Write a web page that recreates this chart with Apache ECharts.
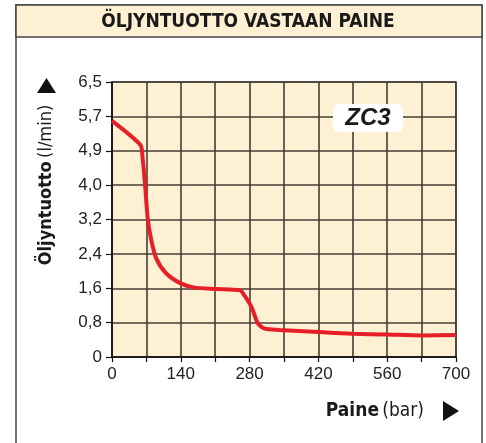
<!DOCTYPE html>
<html><head><meta charset="utf-8">
<script src="https://cdn.jsdelivr.net/npm/echarts@6/dist/echarts.min.js"></script>
<style>html,body{margin:0;padding:0;background:#fff}#c{width:486px;height:443px}</style>
</head><body><div id="c"></div>
<script>
var titleText = 'ÖLJYNTUOTTO VASTAAN PAINE';
var seriesLabel = 'ZC3';
var xName = 'Paine';
var xUnit = '(bar)';
var yName = 'Öljyntuotto';
var yUnit = '(l/min)';
var yTickLabels = ['0', '0,8', '1,6', '2,4', '3,2', '4,0', '4,9', '5,7', '6,5'];
var xTickLabels = ['0', '140', '280', '420', '560', '700'];
var pressure = [0, 58, 62, 67, 73, 80, 90, 110, 140, 168, 212, 260, 267, 284, 297, 311, 340, 420, 490, 560, 630, 700];
var flow = [5.58, 5.01, 4.74, 4.11, 3.24, 2.76, 2.33, 1.98, 1.74, 1.64, 1.61, 1.58, 1.50, 1.18, 0.79, 0.67, 0.64, 0.59, 0.55, 0.53, 0.51, 0.52];

var yMax = 6.5, yStep = yMax / (yTickLabels.length - 1);
var xMax = 700, xStep = 70;
var data = pressure.map(function (p, i) { return [p, flow[i]]; });
var F = '"Liberation Sans", Arial, sans-serif';
var FN = '"DejaVu Sans Condensed", "Liberation Sans Narrow", sans-serif';
var bg = '#fef1d3';
var gridC = '#453e35';

var chart = echarts.init(document.getElementById('c'), null, {renderer: 'canvas'});
chart.setOption({
  animation: false,
  backgroundColor: '#fff',
  grid: {left: 112, top: 82, right: 30, bottom: 86, show: true, backgroundColor: bg, borderColor: gridC, borderWidth: 1.5},
  xAxis: {
    type: 'value', min: 0, max: xMax, interval: xStep,
    axisLine: {lineStyle: {color: '#111', width: 1.5}},
    axisTick: {show: true, length: 5, lineStyle: {color: '#111', width: 1.2}},
    splitLine: {show: true, lineStyle: {color: gridC, width: 1.6}},
    axisLabel: {margin: 9, fontFamily: 'Liberation Sans', fontSize: 17, color: '#222',
      formatter: function (v) { var k = Math.round(v / xStep); return k % 2 === 0 ? xTickLabels[k / 2] : ''; }}
  },
  yAxis: {
    type: 'value', min: 0, max: yMax, interval: yStep,
    axisLine: {show: true, lineStyle: {color: '#111', width: 1.5}},
    axisTick: {show: true, length: 6, lineStyle: {color: '#111', width: 1.2}},
    splitLine: {show: true, lineStyle: {color: gridC, width: 1.6}},
    axisLabel: {margin: 10, fontFamily: 'Liberation Sans', fontSize: 17, color: '#222',
      formatter: function (v) { return yTickLabels[Math.round(v / yStep)]; }}
  },
  series: [{
    type: 'line', data: data, smooth: 0.25, showSymbol: false,
    lineStyle: {color: '#e61e28', width: 4}
  }],
  graphic: [
    {type: 'rect', shape: {x: 16, y: 5, width: 466, height: 460}, style: {fill: 'none', stroke: '#444', lineWidth: 1.5}, z: 0},
    {type: 'rect', shape: {x: 16, y: 5, width: 466, height: 32}, style: {fill: bg, stroke: '#444', lineWidth: 1.5}, z: 1},
    {type: 'text', x: 248, y: 22, z: 2, style: {text: titleText, fill: '#1a1a1a', font: 'bold 19px ' + FN, textAlign: 'center', textVerticalAlign: 'middle'}},
    {type: 'polygon', shape: {points: [[37, 93], [56, 93], [46.5, 78]]}, style: {fill: '#111'}, z: 2},
    {type: 'text', x: 46, y: 185, rotation: Math.PI / 2, z: 2,
      style: {text: '{b|' + yName + '} {n|' + yUnit + '}', textAlign: 'center', textVerticalAlign: 'middle',
        rich: {b: {font: 'bold 18px ' + FN, fill: '#1a1a1a'}, n: {font: '18px ' + FN, fill: '#1a1a1a'}}}},
    {type: 'polygon', shape: {points: [[443, 401], [443, 421], [459, 411]]}, style: {fill: '#111'}, z: 2},
    {type: 'text', x: 424, y: 411, z: 2,
      style: {text: '{b|' + xName + '} {n|' + xUnit + '}', textAlign: 'right', textVerticalAlign: 'middle',
        rich: {b: {font: 'bold 19px ' + FN, fill: '#1a1a1a'}, n: {font: '19px ' + FN, fill: '#1a1a1a'}}}},
    {type: 'rect', shape: {x: 333, y: 104, width: 70, height: 28, r: 6}, style: {fill: '#fff'}, z: 3},
    {type: 'text', x: 368, y: 118, z: 4, style: {text: seriesLabel, fill: '#1a1a1a', font: 'italic bold 24px ' + F, textAlign: 'center', textVerticalAlign: 'middle'}}
  ]
});
</script></body></html>
